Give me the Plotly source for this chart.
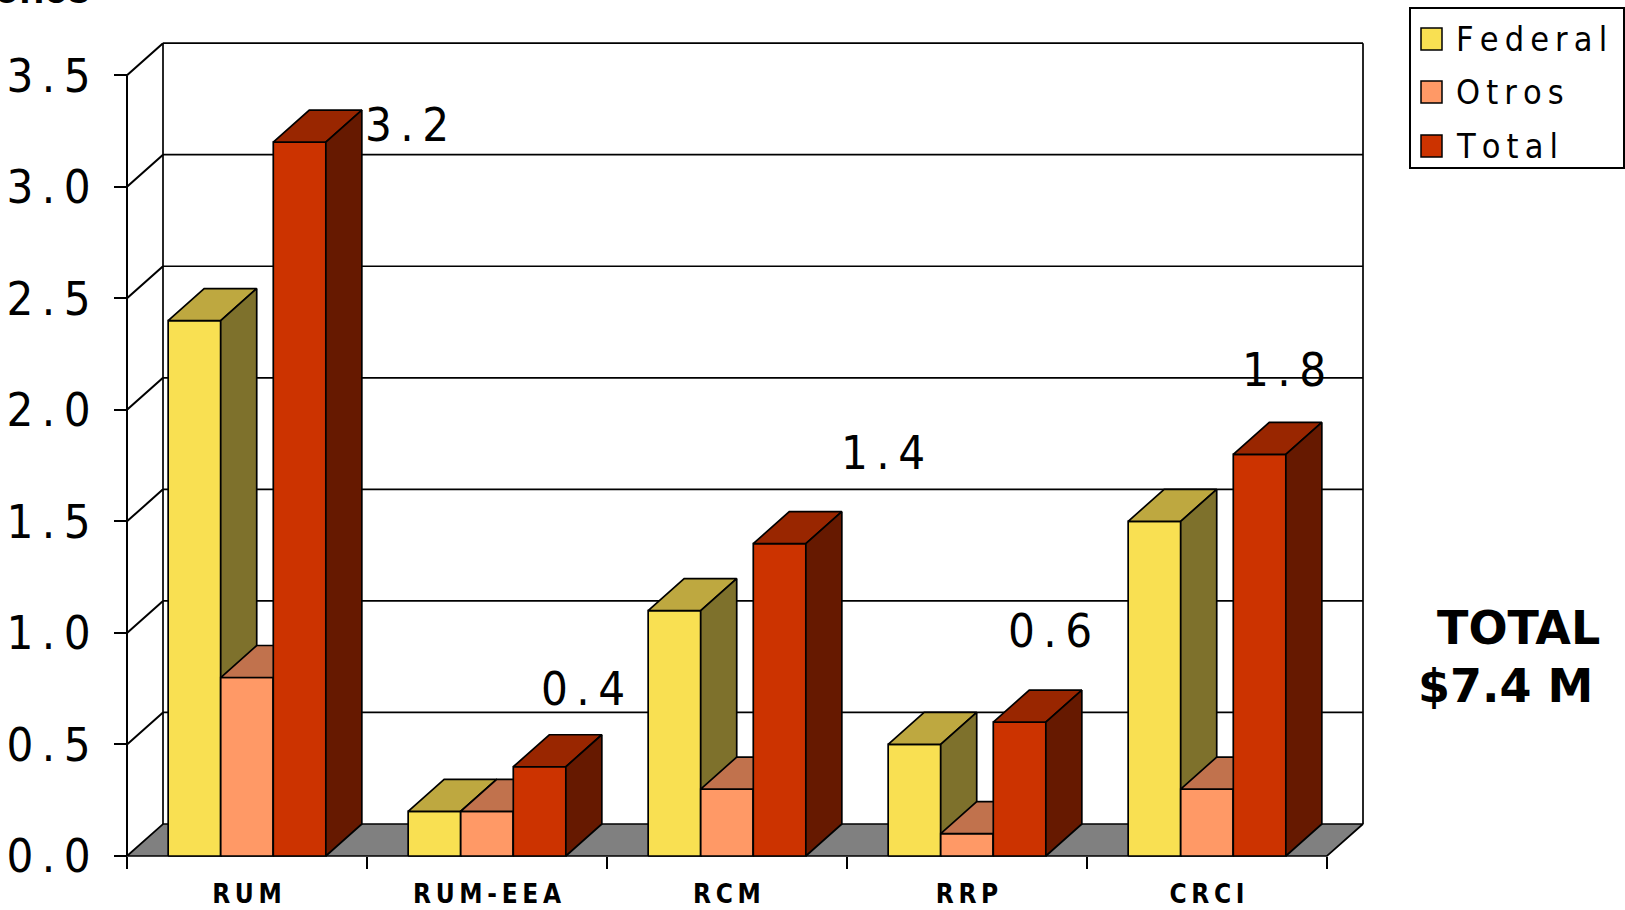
import plotly.graph_objects as go

# ---------------- data ----------------
categories = ["RUM", "RUM-EEA", "RCM", "RRP", "CRCI"]
series_names = ["Federal", "Otros", "Total"]
federal = [2.4, 0.2, 1.1, 0.5, 1.5]
otros = [0.8, 0.2, 0.3, 0.1, 0.3]
total = [3.2, 0.4, 1.4, 0.6, 1.8]
y_ticks = [0.0, 0.5, 1.0, 1.5, 2.0, 2.5, 3.0, 3.5]
y_title = "Millones"
total_title = "TOTAL"

# ---------------- layout / geometry ----------------
W, H = 1625, 910
PX_X0, PX_PER_X = 127.0, 240.0      # pixel of x=0 and pixels per category
PX_Y0, PX_PER_Y = 856.0, 223.1      # pixel of y=0 and pixels per unit
DX = 36.0 / PX_PER_X                # depth offset (x)
DY = 32.0 / PX_PER_Y                # depth offset (y)
BAR_W = 0.219
L, R, T, B = 117, 1375, 33, 866     # plot area in pixels

# label placement relative to total bar (front-left corner, top)
label_dx = [0.558, 0.29, 0.54, 0.235, 0.21]
label_dy = [0.08, 0.35, 0.41, 0.41, 0.38]

NARROW = "DejaVu Sans Condensed, Liberation Sans Narrow, Arial Narrow, sans-serif"
WIDEBOLD = "DejaVu Sans, Liberation Sans, Arial, sans-serif"
BOLD = "Liberation Sans, Arial, sans-serif"
SP = "\u2009"  # thin space used as letter spacing


def spaced(s):
    return SP.join(s)


face_colors = {
    "Federal": ("rgb(249,224,82)", "rgb(190,168,64)", "rgb(126,113,44)"),
    "Otros": ("rgb(255,153,102)", "rgb(193,114,77)", "rgb(128,76,51)"),
    "Total": ("rgb(204,51,0)", "rgb(153,38,0)", "rgb(102,25,0)"),
}
FLOOR = "rgb(128,128,128)"
LW = 1.7

xr = [(L - PX_X0) / PX_PER_X, (R - PX_X0) / PX_PER_X]
yr = [(PX_Y0 - B) / PX_PER_Y, (PX_Y0 - T) / PX_PER_Y]


def px_to_paper(px, py):
    return (px - L) / (R - L), (B - py) / (B - T)


ncat = len(categories)
ymax = y_ticks[-1]
fig = go.Figure()

# back wall + gridlines
wx, wy = [], []
for v in y_ticks[1:]:
    wx += [DX, ncat + DX, None]
    wy += [v + DY, v + DY, None]
wx += [DX, DX, None, ncat + DX, ncat + DX, None]
wy += [DY, ymax + DY, None, DY, ymax + DY, None]
fig.add_trace(go.Scatter(x=wx, y=wy, mode="lines", line=dict(color="black", width=LW),
                         hoverinfo="skip", showlegend=False))

# floor
fig.add_trace(go.Scatter(x=[0, ncat, ncat + DX, DX, 0], y=[0, 0, DY, DY, 0], mode="lines",
                         fill="toself", fillcolor=FLOOR, line=dict(color="black", width=LW),
                         hoverinfo="skip", showlegend=False))

# side axis: front line + depth connectors
ax, ay = [0, 0, None], [0, ymax, None]
for v in y_ticks[1:]:
    ax += [0, DX, None]
    ay += [v, v + DY, None]
fig.add_trace(go.Scatter(x=ax, y=ay, mode="lines", line=dict(color="black", width=2),
                         hoverinfo="skip", showlegend=False))

# bars (painter's order, left to right)
values = [federal, otros, total]
for i in range(ncat):
    for j, name in enumerate(series_names):
        v = values[j][i]
        x0 = i + 0.5 - 1.5 * BAR_W + j * BAR_W
        x1 = x0 + BAR_W
        front, top, side = face_colors[name]
        polys = [
            ([x0, x1, x1, x0, x0], [0, 0, v, v, 0], front),
            ([x0, x1, x1 + DX, x0 + DX, x0], [v, v, v + DY, v + DY, v], top),
            ([x1, x1 + DX, x1 + DX, x1, x1], [0, DY, v + DY, v, 0], side),
        ]
        for px_, py_, col in polys:
            fig.add_trace(go.Scatter(x=px_, y=py_, mode="lines", fill="toself", fillcolor=col,
                                     line=dict(color="black", width=LW), name=name,
                                     hovertemplate=f"{categories[i]}<br>{name}: {v}<extra></extra>",
                                     showlegend=False))

annotations = []
# total value labels
for i in range(ncat):
    x0 = i + 0.5 - 1.5 * BAR_W + 2 * BAR_W
    annotations.append(dict(x=x0 + label_dx[i], y=total[i] + label_dy[i], xref="x", yref="y",
                            text=spaced(f"{total[i]:.1f}"), showarrow=False,
                            font=dict(family=NARROW, size=47, color="black"),
                            xanchor="center", yanchor="middle"))

# grand total
gx, gy = px_to_paper(1518, 628)
annotations.append(dict(x=gx, y=gy, xref="paper", yref="paper", text=f"<b>{total_title}</b>",
                        showarrow=False, font=dict(family=WIDEBOLD, size=46, color="black"),
                        xanchor="center", yanchor="middle"))
gx, gy = px_to_paper(1505, 686)
annotations.append(dict(x=gx, y=gy, xref="paper", yref="paper", text=f"<b>${sum(total):.1f} M</b>",
                        showarrow=False, font=dict(family=WIDEBOLD, size=46, color="black"),
                        xanchor="center", yanchor="middle"))

# y title (cut at the top edge)
tx, ty = px_to_paper(92, 14)
annotations.append(dict(x=tx, y=ty, xref="paper", yref="paper", text=f"<b>{y_title}</b>",
                        showarrow=False, font=dict(family=BOLD, size=41, color="black"),
                        xanchor="right", yanchor="bottom"))

# legend (manual)
shapes = []
lx0, ly0 = px_to_paper(1410, 8)
lx1, ly1 = px_to_paper(1624, 168)
shapes.append(dict(type="rect", xref="paper", yref="paper", x0=lx0, y0=ly1, x1=lx1, y1=ly0,
                   line=dict(color="black", width=2), fillcolor="white", layer="above"))
row_y = [39, 92, 146]
for k, name in enumerate(series_names):
    sx0, sy0 = px_to_paper(1421, row_y[k] - 11)
    sx1, sy1 = px_to_paper(1442, row_y[k] + 11)
    shapes.append(dict(type="rect", xref="paper", yref="paper", x0=sx0, y0=sy1, x1=sx1, y1=sy0,
                       line=dict(color="black", width=1.5), fillcolor=face_colors[name][0],
                       layer="above"))
    ax_, ay_ = px_to_paper(1454, row_y[k])
    annotations.append(dict(x=ax_, y=ay_, xref="paper", yref="paper", text=spaced(name),
                            showarrow=False, font=dict(family=NARROW, size=34, color="black"),
                            xanchor="left", yanchor="middle"))

fig.update_layout(
    width=W, height=H, autosize=False,
    margin=dict(l=L, r=W - R, t=T, b=H - B, pad=0),
    paper_bgcolor="white", plot_bgcolor="white",
    showlegend=False,
    annotations=annotations, shapes=shapes,
    xaxis=dict(range=xr, showgrid=False, zeroline=False, showline=False,
               tickvals=[i + 0.5 for i in range(ncat)],
               ticktext=[spaced(c) for c in categories],
               ticks="", ticklabelstandoff=20,
               tickfont=dict(family=NARROW, size=26, color="black", weight="bold"),
               anchor="free", position=(B - PX_Y0) / (B - T),
               minor=dict(tickvals=list(range(ncat + 1)), ticks="outside", ticklen=12,
                          tickwidth=2, tickcolor="black"),
               automargin=False, fixedrange=True),
    yaxis=dict(range=yr, showgrid=False, zeroline=False, showline=False,
               tickvals=y_ticks, ticktext=[spaced(f"{v:.1f}") for v in y_ticks],
               ticks="outside", ticklen=13, tickwidth=2, tickcolor="black",
               ticklabelstandoff=14,
               tickfont=dict(family=NARROW, size=47, color="black"),
               anchor="free", position=(PX_X0 - L) / (R - L),
               automargin=False, fixedrange=True),
)

fig.write_html("out.html", config={"displayModeBar": False},
               post_script="document.body.style.margin='0';")
